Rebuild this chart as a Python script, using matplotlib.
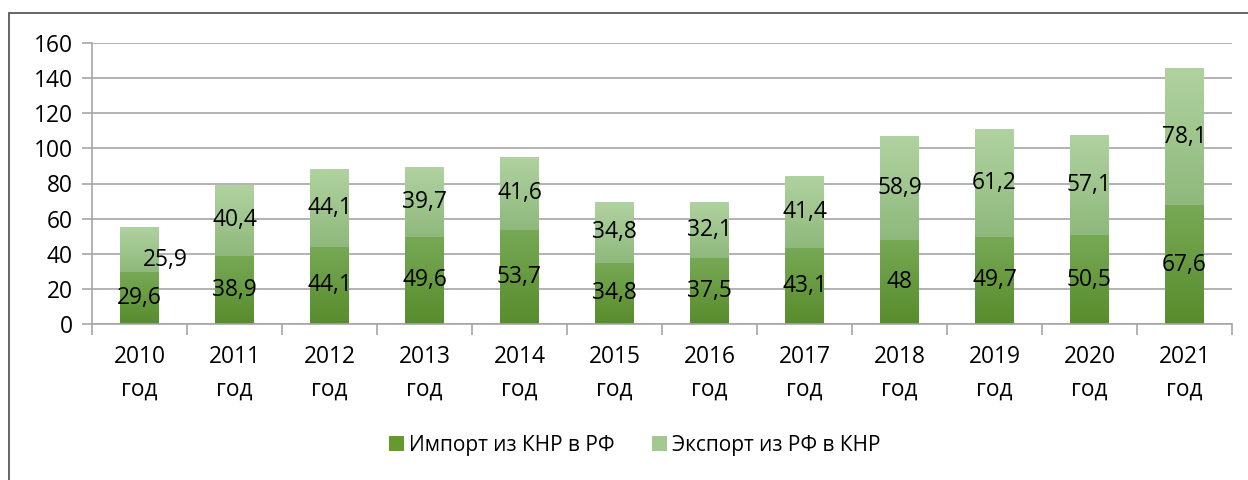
import numpy as np
import matplotlib.pyplot as plt
from matplotlib.colors import LinearSegmentedColormap
from matplotlib.patches import Rectangle

plt.rcParams['font.family'] = ['Open Sans', 'DejaVu Sans']

years = ['2010', '2011', '2012', '2013', '2014', '2015',
         '2016', '2017', '2018', '2019', '2020', '2021']
tick_labels = [y + '\nгод' for y in years]
imports = [29.6, 38.9, 44.1, 49.6, 53.7, 34.8, 37.5, 43.1, 48, 49.7, 50.5, 67.6]
exports = [25.9, 40.4, 44.1, 39.7, 41.6, 34.8, 32.1, 41.4, 58.9, 61.2, 57.1, 78.1]
import_name = 'Импорт из КНР в РФ'
export_name = 'Экспорт из РФ в КНР'


def fmt(v):
    s = ('%.1f' % v).replace('.', ',')
    return s[:-2] if s.endswith(',0') else s


def shade(ax, bars, c_bottom, c_top):
    cmap = LinearSegmentedColormap.from_list('g', [c_bottom, c_top])
    grad = np.linspace(0, 1, 64).reshape(-1, 1)
    for b in bars:
        x0, y0 = b.get_x(), b.get_y()
        im = ax.imshow(grad, cmap=cmap, origin='lower', aspect='auto',
                       extent=(x0, x0 + b.get_width(), y0, y0 + b.get_height()),
                       zorder=b.get_zorder() + 0.1)
        im.set_clip_path(b)


fs = 16.4
fig = plt.figure(figsize=(12.48, 4.8), dpi=100)
ax = fig.add_axes([92 / 1248, 1 - 324 / 480, 1140 / 1248, 281 / 480])

x = np.arange(len(years))
w = 0.41
b1 = ax.bar(x, imports, w, color='#66992f', label=import_name, zorder=2)
b2 = ax.bar(x, exports, w, bottom=imports, color='#a3c990', label=export_name, zorder=2)
shade(ax, b1, '#588c2c', '#77a955')
shade(ax, b2, '#8fb97c', '#b0d2a0')

for i in range(len(years)):
    ax.text(x[i], imports[i] / 2, fmt(imports[i]), ha='center', va='center',
            fontsize=fs, zorder=5)
    dx, dy = (0.27, -6) if i == 0 else (0, 0)
    ax.text(x[i] + dx, imports[i] + exports[i] / 2 + dy, fmt(exports[i]),
            ha='center', va='center', fontsize=fs, zorder=5)

ax.set_xlim(-0.5, len(years) - 0.5)
ax.set_ylim(0, 160)
ax.set_yticks(range(0, 161, 20))
ax.yaxis.grid(True, color='#a6a6a6', linewidth=1.2)
ax.set_axisbelow(True)

ax.set_xticks(x)
ax.set_xticklabels(tick_labels, fontsize=fs, linespacing=1.5)
ax.set_xticks(np.arange(-0.5, len(years)), minor=True)
ax.tick_params(axis='x', which='major', length=0, pad=15)
ax.tick_params(axis='x', which='minor', length=8, color='#a6a6a6', width=1.2)
ax.tick_params(axis='y', length=7, color='#a6a6a6', width=1.2, pad=7, labelsize=fs)

for s in ['top', 'right']:
    ax.spines[s].set_visible(False)
for s in ['left', 'bottom']:
    ax.spines[s].set_color('#a6a6a6')
    ax.spines[s].set_linewidth(1.2)

leg = fig.legend(loc='center', bbox_to_anchor=(635 / 1248, 1 - 445 / 480), ncol=2,
                 frameon=False, fontsize=15, handlelength=0.7, handleheight=0.7,
                 handletextpad=0.25, columnspacing=1.8)

fig.patches.append(Rectangle((9 / 1248, -0.1), 1.2, 0.1 + 1 - 13 / 480,
                             transform=fig.transFigure, fill=False,
                             edgecolor='#595959', linewidth=1.3))

fig.savefig('out.png', dpi=100)
